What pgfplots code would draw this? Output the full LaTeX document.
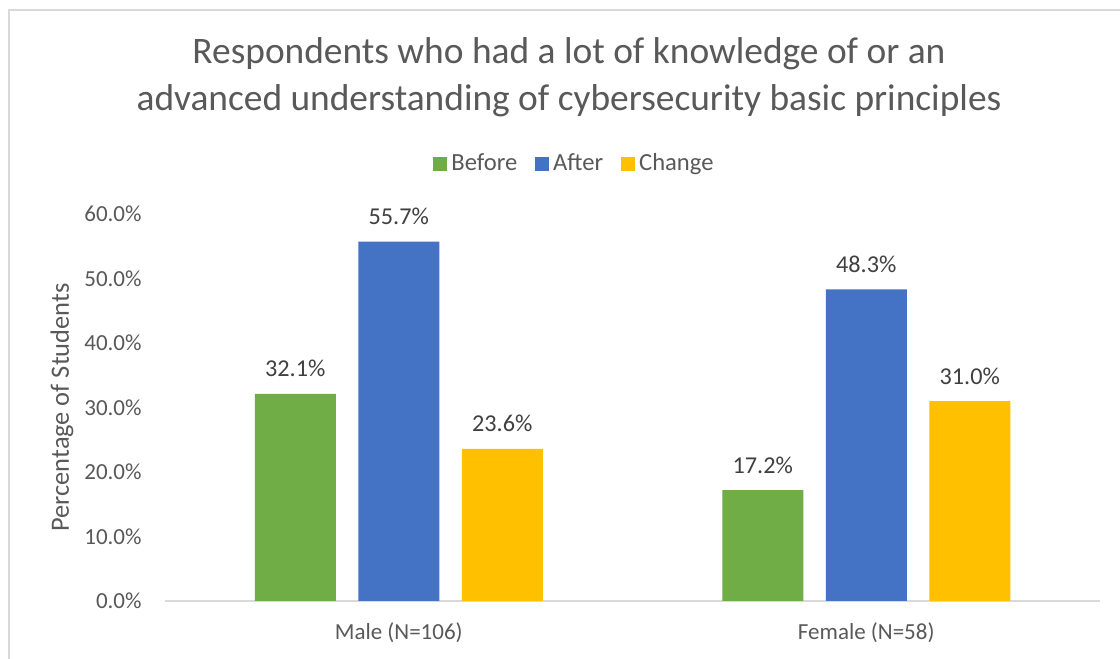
\documentclass[border=0pt]{standalone}
\usepackage{pgfplots}
\pgfplotsset{compat=1.18}
\usepackage{fontspec}
\setmainfont{Carlito}
\definecolor{cgreen}{HTML}{70AD47}
\definecolor{cblue}{HTML}{4472C4}
\definecolor{cyellow}{HTML}{FFC000}
\definecolor{ctext}{HTML}{595959}
\definecolor{clabel}{HTML}{404040}
\definecolor{cline}{HTML}{D9D9D9}
\begin{document}
\begin{tikzpicture}
\useasboundingbox (0,0) rectangle (560pt,329.5pt);
\fill[white] (0,0) rectangle (560pt,329.5pt);
\draw[cline, line width=0.75pt] (4.5pt,-10pt) -- (4.5pt,324.5pt) -- (570pt,324.5pt);
\begin{axis}[
  at={(82.5pt,29pt)}, anchor=south west,
  scale only axis, width=467.5pt, height=193.5pt,
  xmin=-0.5, xmax=1.5, ymin=0, ymax=60,
  ybar=11.25pt, bar width=40.5pt,
  axis x line*=bottom, axis y line*=left,
  x axis line style={cline, line width=0.8pt, -},
  y axis line style={draw=none},
  major tick length=0pt,
  tick style={draw=none},
  xtick={0,1}, xticklabels={Male (N=106), Female (N=58)},
  ytick={0,10,20,30,40,50,60},
  /pgf/number format/assume math mode=true,
  yticklabel={\pgfmathprintnumber[fixed,fixed zerofill,precision=1]{\tick}\%},
  yticklabel style={anchor=east, inner sep=0pt, xshift=-11.5pt, font=\fontsize{11.5}{13}\selectfont, text=ctext},
  xticklabel style={anchor=base, inner sep=0pt, yshift=-19.5pt, font=\fontsize{11.5}{13}\selectfont, text=ctext},
  ylabel={Percentage of Students},
  every axis y label/.style={at={(axis description cs:-0.1102,0.5)}, rotate=90, anchor=center, font=\fontsize{13.2}{15}\selectfont, text=ctext},
  title={Respondents who had a lot of knowledge of or an\\advanced understanding of cybersecurity basic principles},
  title style={at={(axis description cs:0.4321,1.236)}, anchor=base, align=center, inner sep=0pt, font=\fontsize{18.7}{23.8}\selectfont, text=ctext},
  nodes near coords={\pgfmathprintnumber[fixed,fixed zerofill,precision=1]{\pgfplotspointmeta}\%},
  every node near coord/.append style={anchor=base, inner sep=0pt, yshift=8.5pt, font=\fontsize{12.1}{14}\selectfont, text=clabel},
  legend columns=3,
  legend style={at={(axis description cs:0.4390,1.1305)}, anchor=center, draw=none, fill=none, font=\fontsize{12.3}{14}\selectfont, text=ctext, inner sep=0pt,
    /tikz/every even column/.append style={column sep=7pt}},
  legend image code/.code={\path[#1, draw=none] (-1.5pt,-3.5pt) rectangle (5.5pt,3.5pt);},
  clip=false,
]
\addplot[fill=cgreen, draw=none] coordinates {(0,32.1) (1,17.2)};
\addplot[fill=cblue, draw=none] coordinates {(0,55.7) (1,48.3)};
\addplot[fill=cyellow, draw=none] coordinates {(0,23.6) (1,31.0)};
\legend{Before, After, Change}
\end{axis}
\end{tikzpicture}
\end{document}
